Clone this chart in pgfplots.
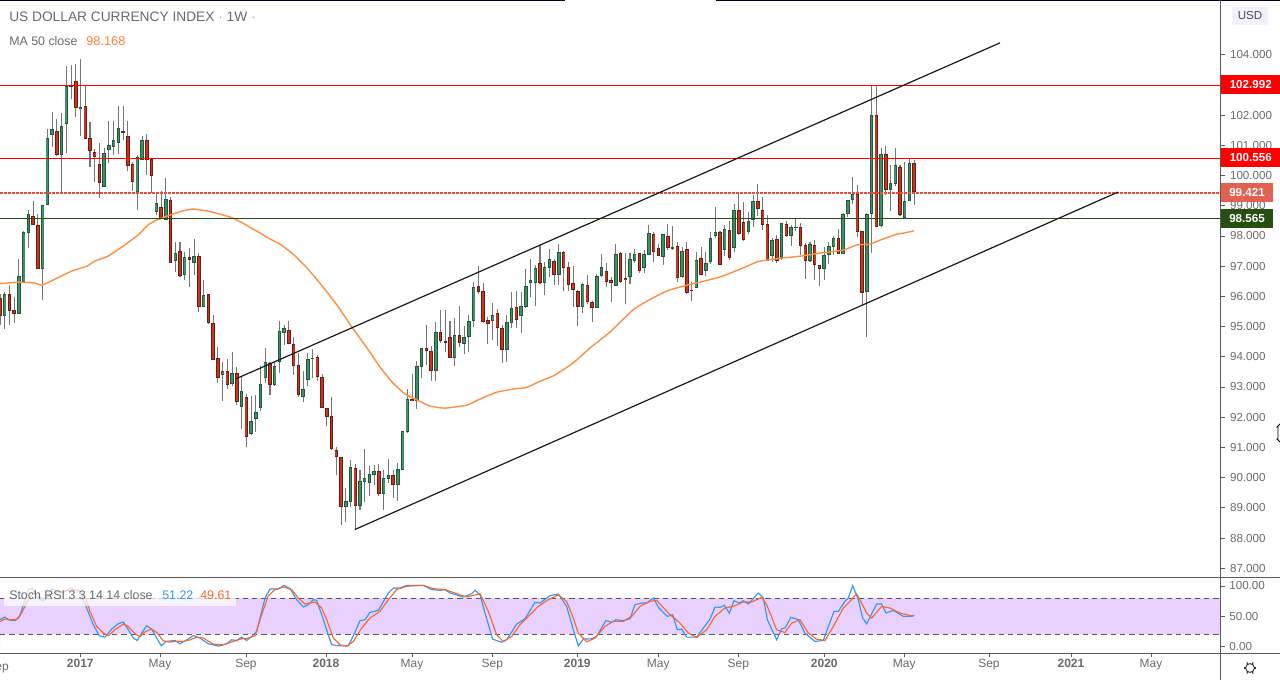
\documentclass[border=0pt]{standalone}
\usepackage{fontspec}
\setmainfont{Liberation Sans}
\usepackage{pgfplots}
\usepackage{pgfplotstable}
\pgfplotsset{compat=1.18}
\definecolor{axgray}{HTML}{5A5A5A}
\definecolor{txtgray}{HTML}{6A6A6A}
\definecolor{gdark}{HTML}{1C5A3A}
\definecolor{gfill}{HTML}{3F9069}
\definecolor{rdark}{HTML}{6E1A10}
\definecolor{rfill}{HTML}{C9341F}
\definecolor{wick}{HTML}{777777}
\definecolor{maorange}{HTML}{FF8F40}
\definecolor{kblue}{HTML}{2F96F3}
\definecolor{dorange}{HTML}{F8652D}
\definecolor{band}{HTML}{E9D1FD}
\definecolor{lvred}{HTML}{FF0000}
\definecolor{lvdot}{HTML}{E0503C}
\definecolor{lvgreen}{HTML}{274E13}
\pgfplotstableread{
i o h l c
0 95.95 96.08 95.05 95.35
1 95.35 96.14 94.92 96.08
2 96.08 96.38 95.05 95.52
3 95.55 95.98 95.12 95.42
4 95.42 97.24 95.42 96.67
5 96.47 98.17 96.47 98.13
6 98.10 98.86 97.60 98.72
7 98.66 99.16 98.36 98.36
8 98.36 98.72 96.91 96.91
9 96.91 99.02 95.88 99.02
10 99.02 101.54 99.02 101.24
11 101.34 102.10 100.95 101.54
12 101.47 101.87 100.65 100.68
13 100.68 102.07 99.45 101.64
14 101.71 103.63 100.75 102.96
15 102.96 103.66 102.53 102.93
16 103.13 103.69 101.94 102.24
17 102.20 103.86 101.31 102.27
18 102.30 103.00 101.21 101.21
19 101.24 101.77 100.28 100.81
20 100.78 100.88 99.78 100.61
21 100.38 101.08 99.25 99.75
22 99.62 100.91 99.62 100.74
23 100.85 101.80 100.41 101.01
24 100.95 101.80 100.68 101.18
25 101.08 102.30 100.71 101.57
26 101.47 102.30 101.18 101.41
27 101.31 101.80 100.15 100.31
28 100.38 100.45 99.49 99.78
29 99.45 100.68 98.86 100.61
30 100.52 101.31 100.52 101.18
31 101.18 101.38 100.02 100.52
32 100.55 100.55 99.42 99.98
33 98.79 99.39 98.69 99.09
34 98.96 99.49 98.59 98.59
35 98.53 99.92 98.53 99.22
36 99.19 99.29 97.10 97.10
37 97.17 97.80 96.81 97.43
38 97.50 97.80 96.64 96.67
39 96.70 97.47 96.54 97.30
40 97.30 97.60 96.31 97.21
41 97.10 97.90 96.70 97.34
42 97.34 97.44 95.48 95.65
43 95.65 96.54 95.65 96.05
44 96.08 96.08 95.08 95.12
45 95.12 95.38 93.89 93.89
46 93.96 94.32 93.13 93.30
47 93.40 93.82 92.53 93.53
48 93.53 93.92 92.93 93.06
49 93.10 94.16 93.03 93.46
50 93.46 93.66 92.40 92.50
51 92.33 93.33 91.61 92.87
52 92.67 92.77 91.01 91.34
53 91.44 92.70 91.41 91.87
54 91.94 92.73 91.51 92.17
55 92.30 93.69 92.20 93.10
56 93.30 94.29 93.13 93.82
57 93.79 93.82 92.73 93.06
58 93.06 93.82 93.03 93.69
59 93.82 95.18 93.46 94.85
60 94.79 95.05 94.39 94.95
61 94.89 95.18 94.42 94.42
62 94.42 94.65 93.40 93.69
63 93.73 94.12 92.67 92.73
64 92.67 93.53 92.50 92.93
65 93.23 94.12 93.03 93.92
66 93.92 94.26 93.30 93.96
67 93.99 94.05 93.20 93.33
68 93.33 93.43 92.30 92.30
69 92.30 92.30 91.71 92.00
70 92.04 92.67 90.91 90.95
71 90.91 91.01 90.09 90.68
72 90.68 90.68 88.43 89.03
73 89.03 89.66 88.53 89.23
74 89.19 90.58 89.03 90.35
75 90.31 90.45 88.30 89.06
76 89.06 90.25 88.93 89.89
77 89.85 90.95 89.19 89.98
78 89.82 90.38 89.39 90.12
79 90.09 90.41 89.75 90.22
80 90.22 90.45 89.39 89.46
81 89.46 90.25 88.93 89.98
82 89.95 90.61 89.82 90.09
83 90.09 90.25 89.32 89.75
84 89.75 90.48 89.23 90.28
85 90.25 91.54 90.25 91.54
86 91.51 92.93 91.48 92.60
87 92.60 93.43 92.53 92.53
88 92.53 93.86 92.27 93.69
89 93.66 94.29 93.30 94.29
90 94.29 95.05 93.73 94.19
91 94.19 94.36 93.20 93.53
92 93.53 95.15 93.20 94.82
93 94.82 95.55 94.46 94.52
94 94.52 95.55 94.16 94.46
95 94.65 95.18 93.96 93.96
96 93.96 95.28 93.69 94.72
97 94.72 95.68 94.32 94.46
98 94.42 95.02 94.09 94.65
99 94.65 95.38 94.16 95.18
100 95.18 96.47 94.98 96.31
101 96.34 97.00 96.08 96.14
102 96.18 96.44 95.12 95.15
103 95.22 95.32 94.42 95.08
104 95.18 95.78 94.56 95.38
105 95.45 95.58 94.36 94.95
106 94.95 95.05 93.79 94.23
107 94.23 95.38 93.82 95.15
108 95.12 96.14 94.95 95.61
109 95.65 96.18 94.95 95.22
110 95.35 96.14 94.79 95.68
111 95.65 96.91 95.61 96.34
112 96.44 97.24 95.98 96.54
113 96.44 97.04 95.68 96.94
114 97.10 97.70 96.41 96.44
115 96.44 97.14 96.05 96.97
116 96.94 97.57 96.64 97.24
117 97.17 97.24 96.38 96.70
118 96.70 97.73 96.38 97.47
119 97.47 97.50 96.18 96.94
120 96.97 97.14 96.18 96.38
121 96.44 97.00 95.65 96.21
122 96.18 96.21 95.02 95.65
123 95.65 96.44 95.45 96.41
124 96.38 96.70 95.75 95.81
125 95.81 95.84 95.15 95.61
126 95.61 96.74 95.61 96.67
127 96.67 97.40 96.64 96.97
128 96.84 97.10 96.31 96.47
129 96.54 96.64 95.81 96.44
130 96.34 97.73 96.34 97.40
131 97.43 97.47 96.44 96.47
132 96.61 97.43 95.75 96.54
133 96.64 97.43 96.41 97.24
134 97.17 97.57 97.10 97.40
135 97.43 97.43 96.77 96.84
136 96.94 97.54 96.77 97.40
137 97.37 98.36 97.37 98.10
138 98.06 98.13 97.14 97.47
139 97.60 97.73 97.34 97.34
140 97.30 98.06 97.04 98.06
141 98.00 98.39 97.54 97.60
142 97.57 98.33 97.54 97.63
143 97.67 97.80 96.47 96.61
144 96.64 97.63 96.61 97.50
145 97.57 97.80 96.08 96.11
146 96.21 96.47 95.84 96.18
147 96.28 97.47 96.28 97.21
148 97.27 97.63 96.70 96.70
149 96.84 97.47 96.67 97.10
150 97.14 98.13 97.07 97.93
151 98.00 98.96 97.93 98.13
152 98.13 98.17 97.04 97.04
153 97.54 98.36 97.34 98.23
154 98.20 98.49 97.21 97.27
155 97.60 99.06 97.47 98.86
156 98.86 99.45 98.03 98.06
157 98.46 99.12 97.83 97.87
158 98.13 98.79 98.06 98.49
159 98.53 99.36 98.29 99.16
160 99.16 99.72 98.66 98.89
161 98.86 99.29 98.20 98.36
162 98.39 98.69 97.17 97.17
163 97.34 97.93 97.14 97.87
164 97.90 98.03 97.10 97.17
165 97.24 98.43 97.21 98.43
166 98.39 98.49 97.97 98.00
167 98.00 98.36 97.67 98.29
168 98.26 98.56 98.16 98.29
169 98.29 98.43 97.37 97.67
170 97.70 97.77 96.57 97.17
171 97.17 97.80 97.14 97.73
172 97.70 97.87 96.54 97.04
173 97.04 97.04 96.34 96.91
174 96.91 97.63 96.54 97.37
175 97.37 97.80 97.07 97.67
176 97.63 98.00 97.37 97.93
177 97.93 98.23 97.40 97.40
178 97.40 98.76 97.40 98.72
179 98.72 99.19 98.62 99.19
180 99.19 99.95 99.06 99.39
181 99.39 99.69 97.97 98.13
182 98.17 98.17 95.68 96.11
183 96.14 98.76 94.65 98.72
184 98.72 103.00 97.44 102.00
185 102.00 103.00 98.29 98.29
186 98.33 100.91 98.29 100.71
187 100.71 100.98 99.36 99.52
188 99.52 100.35 98.82 99.75
189 99.72 100.91 99.65 100.35
190 100.28 100.35 98.66 98.69
191 98.59 100.45 98.59 99.16
192 99.16 100.58 99.16 100.41
193 100.41 100.51 99.02 99.45
}\candles
\pgfplotsset{
  wicks/.style={draw=none,mark=none,forget plot,
    error bars/y dir=plus,error bars/y explicit,error bars/error mark=none,
    error bars/error bar style={draw=wick,line width=0.8pt}},
  bodyo/.style={draw=none,mark=none,forget plot,
    error bars/y dir=plus,error bars/y explicit,error bars/error mark=none,
    error bars/error bar style={draw=#1,line width=2.6pt}},
  bodyi/.style={draw=none,mark=none,forget plot,
    error bars/y dir=plus,error bars/y explicit,error bars/error mark=none,
    error bars/error bar style={draw=#1,line width=1.35pt}},
}
\begin{document}
\begin{tikzpicture}
\path[use as bounding box] (0,0) rectangle (960pt,510pt);
\begin{axis}[
  at={(0pt,77.25pt)},anchor=south west,scale only axis,
  width=915.5pt,height=432.75pt,
  xmin=0,xmax=257.7,ymin=86.71,ymax=105.81,
  axis x line=none,axis y line=right,
  axis line style={-,draw=axgray,line width=0.75pt},
  ytick={87,88,...,104},
  tick style={draw=axgray,line width=0.6pt},
  tick align=outside,major tick length=3.5pt,
  yticklabel style={font=\fontsize{8.7}{10}\selectfont,text=txtgray,
    /pgf/number format/.cd,fixed,fixed zerofill,precision=3,assume math mode=true},
]
% wicks
\addplot[wicks] table[x=i,y=l,y error plus expr={\thisrow{h}-\thisrow{l}}] {\candles};
% up candles
\addplot[bodyo=gdark,x filter/.expression={\thisrow{c}<\thisrow{o} ? nan : x}]
  table[x=i,y=o,y error plus expr={\thisrow{c}-\thisrow{o}}] {\candles};
\addplot[bodyi=gfill,x filter/.expression={\thisrow{c}<\thisrow{o} ? nan : x}]
  table[x=i,y expr={\thisrow{o}+0.03},y error plus expr={max(\thisrow{c}-\thisrow{o}-0.06,0)}] {\candles};
% down candles
\addplot[bodyo=rdark,x filter/.expression={\thisrow{c}<\thisrow{o} ? x : nan}]
  table[x=i,y=c,y error plus expr={\thisrow{o}-\thisrow{c}}] {\candles};
\addplot[bodyi=rfill,x filter/.expression={\thisrow{c}<\thisrow{o} ? x : nan}]
  table[x=i,y expr={\thisrow{c}+0.03},y error plus expr={max(\thisrow{o}-\thisrow{c}-0.06,0)}] {\candles};
% moving average
\addplot[maorange,line width=1.05pt,smooth,tension=0.3,mark=none] coordinates {
(0,96.42)(3.8,96.47)(7.39,96.44)(8.87,96.37)(11.61,96.57)(15.2,96.84)(18.37,97.00)(20.05,97.17)
(22.8,97.33)(25.97,97.66)(29.13,98.03)(31.24,98.36)(33.14,98.53)(35.89,98.69)(38.42,98.82)(40.74,98.89)
(43.91,98.82)(46.44,98.72)(49.19,98.59)(52.78,98.29)(57.0,97.90)(59.11,97.73)(61.85,97.40)(64.81,96.94)
(68.19,96.31)(71.14,95.71)(74.31,94.98)(77.48,94.29)(80.22,93.66)(82.96,93.13)(85.5,92.77)(88.03,92.57)
(90.77,92.37)(93.94,92.30)(98.59,92.40)(101.33,92.60)(104.92,92.83)(108.3,92.93)(111.25,92.99)(114.0,93.19)
(116.74,93.36)(120.96,93.79)(124.55,94.29)(128.77,94.82)(133.63,95.55)(136.58,95.84)(140.81,96.18)(145.03,96.37)
(147.77,96.47)(152.0,96.64)(155.8,96.87)(159.81,97.14)(161.92,97.20)(165.3,97.27)(168.88,97.33)(173.1,97.43)
(177.96,97.53)(180.92,97.70)(183.66,97.73)(185.77,97.86)(189.36,98.06)(190.63,98.09)(192.95,98.17)};
% levels
\addplot[lvred,line width=0.85pt] coordinates {(0,102.992)(257.7,102.992)};
\addplot[lvred,line width=0.85pt] coordinates {(0,100.556)(257.7,100.556)};
\addplot[lvdot,line width=0.8pt,dash pattern=on 2pt off 1pt] coordinates {(0,99.421)(257.7,99.421)};
\addplot[lvgreen,line width=0.85pt] coordinates {(0,98.565)(257.7,98.565)};
% channel
\addplot[black!90,line width=0.9pt] coordinates {(49.8,93.27)(211.1,104.39)};
\addplot[black!90,line width=0.9pt] coordinates {(74.9,88.28)(236.0,99.45)};
\end{axis}
\begin{axis}[
  at={(0pt,19.9pt)},anchor=south west,scale only axis,
  width=915.5pt,height=57.4pt,
  xmin=0,xmax=257.7,ymin=-12.2,ymax=115,
  axis x line=bottom,axis y line=right,
  axis line style={-,draw=axgray,line width=0.75pt},
  ytick={0,50,100},
  xtick={16.95,33.78,51.93,68.82,86.97,103.93,121.87,138.97,155.86,174.01,190.9,208.78,226.09,242.98},
  xticklabels={\textbf{2017},May,Sep,\textbf{2018},May,Sep,\textbf{2019},May,Sep,\textbf{2020},May,Sep,\textbf{2021},May},
  tick style={draw=axgray,line width=0.6pt},
  tick align=outside,major tick length=3pt,
  yticklabel style={font=\fontsize{8.7}{10}\selectfont,text=txtgray,
    /pgf/number format/.cd,fixed,fixed zerofill,precision=2,assume math mode=true},
  xticklabel style={font=\fontsize{9}{10}\selectfont,text=txtgray,anchor=base,yshift=-7.4pt},
]
\addplot[draw=none,fill=band,forget plot] coordinates {(0,20)(257.7,20)(257.7,80)(0,80)} \closedcycle;
\addplot[axgray,line width=0.7pt,dash pattern=on 4pt off 3pt] coordinates {(0,80)(257.7,80)};
\addplot[axgray,line width=0.7pt,dash pattern=on 4pt off 3pt] coordinates {(0,20)(257.7,20)};
\addplot[kblue,line width=0.85pt] coordinates {
(0,43.9)(0.99,48.3)(2.11,42.7)(3.17,42.7)(4.08,48.3)(5.07,71.6)(5.98,93.9)(6.9,96.1)(7.74,81.6)(9.01,75.5)
(9.85,78.3)(10.91,95.0)(11.96,92.2)(13.02,88.3)(14.92,96.6)(16.89,90.0)(18.16,66.1)(19.7,35.5)(20.97,17.2)(22.17,15.0)
(23.57,28.3)(24.98,37.2)(26.04,40.0)(27.09,27.2)(28.15,13.3)(28.99,9.4)(29.91,21.6)(30.96,33.9)(32.02,28.3)(33.08,13.3)
(34.06,0.5)(35.05,7.8)(36.95,9.4)(38.0,3.9)(39.41,10.5)(40.82,17.7)(42.22,13.3)(43.98,3.9)(46.09,0)(47.85,3.9)
(48.91,10.5)(49.96,9.4)(51.02,15.0)(52.08,9.4)(53.13,16.1)(54.19,24.4)(55.95,80.0)(57.0,95.0)(58.76,95.0)(59.96,101)
(61.22,95.5)(62.63,77.2)(64.04,65)(65.09,68.9)(66.15,77.2)(66.85,76.1)(67.91,52.2)(70.02,2.2)(71.78,0.5)(73.54,0.5)
(74.6,17.2)(76.0,42.2)(77.06,43.9)(78.11,56.1)(79.87,59.4)(81.98,88.3)(83.04,96.6)(84.45,96.6)(85.85,101)(89.37,101)
(91.13,93.9)(92.89,92.8)(93.95,93.9)(95.0,88.3)(97.82,81.6)(99.58,87.2)(100.28,92.8)(101.33,85.5)(102.39,55.0)(104.0,11.6)
(105.9,6.6)(106.96,10.5)(109.07,36.6)(110.83,45.5)(112.94,72.8)(114.0,71.6)(116.11,83.9)(117.87,86.6)(119.63,66.1)(121.03,27.2)
(122.09,0.5)(123.15,11.6)(124.9,12.2)(125.96,16.1)(127.93,42.7)(129.13,39.4)(130.04,43.9)(131.59,42.2)(133.0,45.5)(134.05,68.9)
(135.46,71.6)(136.52,71.6)(137.92,80)(139.12,63.3)(140.88,49.4)(142.0,52.2)(142.99,27.2)(143.91,28.3)(144.96,15.0)(147.07,15.0)
(149.89,45.0)(150.94,65)(152.0,64.4)(152.91,67.8)(153.97,55)(154.95,75.5)(156.08,71.6)(156.92,75.5)(157.98,70)(160.09,88.3)
(161.15,80)(162.0,43.9)(163.96,10.5)(165.02,28.9)(165.72,30)(166.99,47.8)(168.54,43.9)(169.94,21.6)(172.05,7.8)(173.81,9.4)
(176.06,57.8)(176.98,57.8)(178.39,74.4)(179.09,80)(180.01,100.5)(181.2,77.2)(182.12,46.6)(182.96,37.2)(185.07,70)(186.13,70)
(187.04,55)(188.59,59.4)(190.7,49.4)(192.11,49.4)(193.0,51.1)};
\addplot[dorange,line width=0.85pt] coordinates {
(0,41.1)(0.99,45.0)(2.11,43.9)(3.52,43.9)(4.57,55.0)(5.98,77.2)(7.04,88.3)(8.09,82.8)(9.15,78.3)(10.56,85.5)
(11.96,90)(14.07,92.8)(16.54,92.8)(17.95,82.8)(19.0,57.8)(20.41,32.8)(21.82,21.6)(22.87,17.2)(24.28,27.2)(26.04,36.6)
(27.09,32.8)(28.5,20.5)(29.56,16.1)(30.75,24.4)(32.02,28.3)(33.08,22.7)(34.48,8.9)(35.89,6.6)(37.3,8.3)(38.71,7.8)
(40.11,10.5)(41.52,15.0)(42.93,13.3)(45.04,3.3)(47.15,2.2)(49.26,7.8)(51.02,12.2)(52.43,13.3)(53.83,17.2)(55.24,52.2)
(56.65,83.9)(58.06,93.9)(59.82,98.3)(61.58,93.9)(62.98,80)(64.39,70)(66.5,73.3)(67.91,63.3)(68.97,43.9)(70.37,13.3)
(71.78,2.2)(73.19,0)(74.6,7.8)(76.35,30)(78.11,46.6)(80.22,57.8)(81.98,77.2)(83.74,93.9)(85.85,99.4)(89.37,101)
(91.48,95.5)(93.95,93.9)(96.41,87.2)(98.52,81.6)(101.34,87.2)(103.09,57.8)(104.85,18.9)(106.26,7.8)(108.02,16.1)(109.77,35.5)
(111.89,52.2)(113.65,66.1)(115.76,77.2)(117.87,85)(119.63,74.4)(121.03,46.6)(122.09,21.6)(123.85,7.2)(125.61,13.3)(127.72,32.8)
(129.48,41.1)(131.59,41.1)(133.35,49.4)(135.11,66.1)(137.22,74.4)(138.63,76.1)(141.09,55)(143.55,38.3)(145.31,21.6)(147.07,14.4)
(149.18,27.2)(150.94,49.4)(153.05,63.3)(154.81,66.1)(156.92,73.3)(158.68,73.3)(160.8,81.1)(161.85,68.9)(163.96,27.2)(165.72,22.7)
(167.13,38.3)(168.89,43.9)(170.65,21.6)(172.41,11.6)(174.17,9.4)(175.93,32.8)(178.04,63.3)(179.45,74.4)(180.85,87.2)(181.9,71.6)
(182.96,55)(184.02,46.6)(186.13,66.1)(187.89,63.3)(190.0,55)(192.81,49.4)};
\end{axis}
% page furniture, in reference pixels
\begin{scope}[shift={(0pt,510pt)},x=0.75pt,y=-0.75pt]
\fill[white,opacity=0.72] (4,586) rectangle (236,606);
\node[anchor=west,inner sep=0,font=\fontsize{9.3}{10}\selectfont,text=txtgray] at (9,595) {Stoch RSI 3 3 14 14 close};
\node[anchor=west,inner sep=0,font=\fontsize{9.3}{10}\selectfont,text=kblue] at (162,595) {51.22};
\node[anchor=west,inner sep=0,font=\fontsize{9.3}{10}\selectfont,text=dorange] at (200,595) {49.61};
\fill[black!85!blue] (0,0) rectangle (565,1);
\fill[black!85!blue] (716,0) rectangle (1280,1);
\draw[axgray,line width=0.75pt] (1220.7,0)--(1220.7,680);
\draw[axgray,line width=0.75pt] (0,577.5)--(1280,577.5);
\draw[axgray,line width=0.75pt] (0,653.3)--(1280,653.3);
\node[anchor=west,inner sep=0,font=\fontsize{10.3}{12}\selectfont,text=txtgray] at (9,17) {US DOLLAR CURRENCY INDEX {\color{black!35}·} 1W {\color{black!35}·}};
\node[anchor=west,inner sep=0,font=\fontsize{9.3}{10}\selectfont,text=txtgray] at (9,41.5) {MA 50 close};
\node[anchor=west,inner sep=0,font=\fontsize{9.6}{10}\selectfont,text=maorange!90!red] at (86,41.5) {98.168};
\node[anchor=center,inner sep=0,font=\fontsize{9}{10}\selectfont,text=txtgray] at (-2,668) {Sep};
% price tags
\fill[blue!5!white,rounded corners=1.5pt] (1232,7) rectangle (1268,25);
\node[inner sep=0,font=\fontsize{8.7}{10}\selectfont,text=black!70] at (1250,16) {USD};
\fill[lvred] (1220.7,75) rectangle (1280,94);
\node[anchor=west,inner sep=0,font=\fontsize{8.7}{10}\selectfont\bfseries,text=white] at (1229.5,85) {102.992};
\fill[lvred] (1220.7,148) rectangle (1280,167);
\node[anchor=west,inner sep=0,font=\fontsize{8.7}{10}\selectfont\bfseries,text=white] at (1229.5,158) {100.556};
\fill[lvdot!90!white] (1220.7,183) rectangle (1273,202);
\node[anchor=west,inner sep=0,font=\fontsize{8.7}{10}\selectfont\bfseries,text=white] at (1229,193) {99.421};
\fill[lvgreen] (1220.7,209) rectangle (1273,228);
\node[anchor=west,inner sep=0,font=\fontsize{8.7}{10}\selectfont\bfseries,text=white] at (1229,219) {98.565};
% gear
\draw[black!80,line width=0.7pt] (1250,668) circle (4.4);
\foreach \a in {0,60,...,300}{\draw[black!80,line width=0.8pt] (1250,668)++(\a:4.4)--++(\a:2);}
% cursor fragment
\draw[black,fill=white,line width=0.6pt] (1281,423)--(1277,427)--(1278,427)--(1278,439)--(1277,439)--(1281,443);
\end{scope}
\end{tikzpicture}
\end{document}
